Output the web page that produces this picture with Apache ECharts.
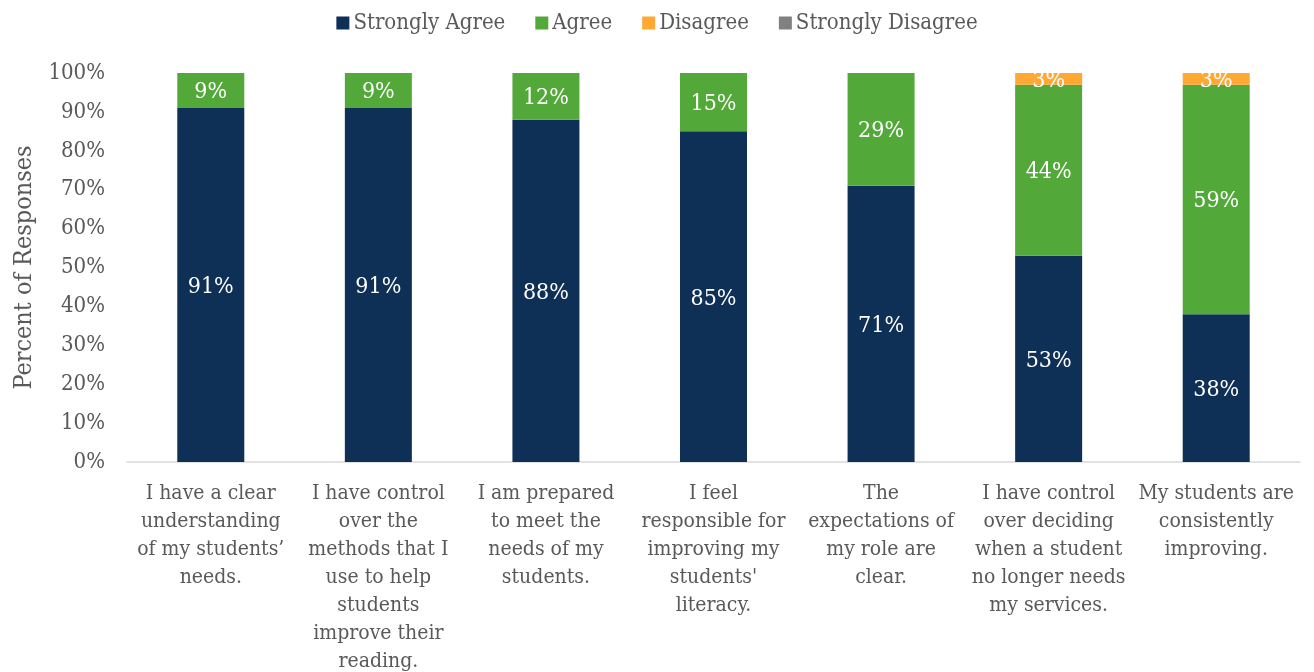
<!DOCTYPE html>
<html>
<head>
<meta charset="utf-8">
<title>Percent of Responses</title>
<script src="https://cdn.jsdelivr.net/npm/echarts@6/dist/echarts.min.js"></script>
<style>
  html, body { margin: 0; padding: 0; background: #ffffff; }
  #chart { width: 1314px; height: 672px; }
</style>
</head>
<body>
<div id="chart"></div>
<script>
// Survey statements (line breaks as they wrap under each bar)
const categories = [
  "I have a clear\nunderstanding\nof my students\u2019\nneeds.",
  "I have control\nover the\nmethods that I\nuse to help\nstudents\nimprove their\nreading.",
  "I am prepared\nto meet the\nneeds of my\nstudents.",
  "I feel\nresponsible for\nimproving my\nstudents'\nliteracy.",
  "The\nexpectations of\nmy role are\nclear.",
  "I have control\nover deciding\nwhen a student\nno longer needs\nmy services.",
  "My students are\nconsistently\nimproving."
];

// Share of responses per statement, in percent
const stronglyAgree    = [91, 91, 88, 85, 71, 53, 38];
const agree            = [9, 9, 12, 15, 29, 44, 59];
const disagree         = [0, 0, 0, 0, 0, 3, 3];
const stronglyDisagree = [0, 0, 0, 0, 0, 0, 0];

const yTicks = [0, 10, 20, 30, 40, 50, 60, 70, 80, 90, 100];

const FONT = "'DejaVu Serif Condensed', 'Liberation Serif', serif";
const TEXT = '#595959';

const seriesDefs = [
  { name: 'Strongly Agree', data: stronglyAgree, color: '#0E2F56' },
  { name: 'Agree', data: agree, color: '#52A838' },
  { name: 'Disagree', data: disagree, color: '#FFA934' },
  { name: 'Strongly Disagree', data: stronglyDisagree, color: '#808080' }
];

const chart = echarts.init(document.getElementById('chart'), null, { renderer: 'canvas' });

chart.setOption({
  animation: false,
  textStyle: { fontFamily: FONT },
  legend: {
    top: 7,
    left: 'center',
    itemWidth: 13,
    itemHeight: 13,
    itemGap: 30,
    icon: 'rect',
    textStyle: { fontFamily: FONT, fontSize: 22, color: TEXT, padding: [0, 0, 0, -1] },
    data: seriesDefs.map(s => s.name)
  },
  grid: { left: 127, right: 14, top: 73, bottom: 210, containLabel: false, outerBoundsMode: 'none' },
  xAxis: {
    type: 'category',
    data: categories,
    axisLine: { show: true, lineStyle: { color: '#D9D9D9', width: 1.5 } },
    axisTick: { show: false },
    axisLabel: {
      interval: 0,
      margin: 18,
      fontFamily: FONT,
      fontSize: 21,
      lineHeight: 28,
      color: TEXT,
      align: 'center'
    }
  },
  yAxis: {
    type: 'value',
    min: 0,
    max: 100,
    interval: 10,
    name: 'Percent of Responses',
    nameLocation: 'middle',
    nameGap: 90,
    nameTextStyle: { fontFamily: FONT, fontSize: 25, color: TEXT },
    axisLine: { show: false },
    axisTick: { show: false },
    splitLine: { show: false },
    axisLabel: {
      margin: 22,
      fontFamily: FONT,
      fontSize: 22,
      color: TEXT,
      padding: [4, 0, 0, 0],
      formatter: v => (yTicks.includes(v) ? v + '%' : '')
    }
  },
  series: seriesDefs.map(s => ({
    name: s.name,
    type: 'bar',
    stack: 'total',
    barWidth: 67,
    data: s.data,
    itemStyle: { color: s.color },
    label: {
      show: true,
      position: 'inside',
      offset: [0, 2],
      fontFamily: FONT,
      fontSize: 23,
      color: '#ffffff',
      formatter: p => (p.value > 0 ? p.value + '%' : '')
    }
  }))
});
</script>
</body>
</html>
